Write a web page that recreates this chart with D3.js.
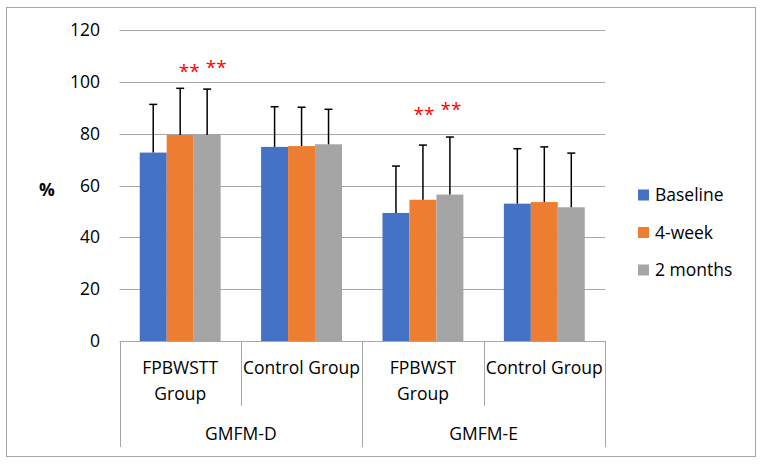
<!DOCTYPE html>
<html>
<head>
<meta charset="utf-8">
<script src="https://cdn.jsdelivr.net/npm/d3@7"></script>
<style>
  body { margin: 0; background: #fff; }
  svg { font-family: "Open Sans", sans-serif; }
</style>
</head>
<body>
<svg width="764" height="466"></svg>
<script>
// data
var categories = ["FPBWSTT Group", "Control Group", "FPBWST Group", "Control Group"];
var groups = ["GMFM-D", "GMFM-E"];
var series = ["Baseline", "4-week", "2 months"];
var colors = ["#4472C4", "#ED7D31", "#A5A5A5"];
var baseline = [72.7, 74.9, 49.4, 53.0];
var week4 = [79.5, 75.2, 54.5, 53.6];
var months2 = [79.5, 75.9, 56.5, 51.6];
var baselineSD = [18.6, 15.5, 18.1, 21.2];
var week4SD = [18.0, 15.0, 21.1, 21.3];
var months2SD = [17.7, 13.5, 22.2, 20.9];
var yTicks = [0, 20, 40, 60, 80, 100, 120];
// significance marks: category, series, level (in % units)
var starCat = [0, 0, 2, 2];
var starSeries = [1, 2, 1, 2];
var starLevel = [105.5, 107, 89, 91];

var svg = d3.select('svg');
var margin = {left: 119.5, right: 605, top: 30, bottom: 341};
var fs = 17.5;

var values = [baseline, week4, months2];
var sds = [baselineSD, week4SD, months2SD];

var x = d3.scaleBand().domain(d3.range(categories.length))
  .range([margin.left, margin.right]);
var xs = d3.scaleBand().domain(d3.range(series.length))
  .range([0, x.bandwidth()]).paddingInner(0).paddingOuter(0.75);
var y = d3.scaleLinear().domain([0, 120]).range([margin.bottom, margin.top]);

// outer frame
svg.append('rect')
  .attr('x', 6.5).attr('y', 7.5).attr('width', 749).attr('height', 449)
  .attr('fill', 'none').attr('stroke', '#a6a6a6').attr('stroke-width', 1);

// grid
svg.append('g').selectAll('line').data(yTicks).join('line')
  .attr('x1', margin.left).attr('x2', margin.right)
  .attr('y1', d => Math.round(y(d)) + 0.5).attr('y2', d => Math.round(y(d)) + 0.5)
  .attr('stroke', '#a6a6a6').attr('stroke-width', 1);

svg.append('g').selectAll('text').data(yTicks).join('text')
  .attr('x', 100).attr('y', d => y(d))
  .attr('dy', '0.35em')
  .attr('text-anchor', 'end')
  .attr('font-size', fs)
  .attr('fill', '#000')
  .text(d => d);

svg.append('text')
  .attr('x', 47).attr('y', 190).attr('dy', '0.35em')
  .attr('text-anchor', 'middle')
  .attr('font-size', fs).attr('font-weight', 'bold')
  .text('%');

// bars
series.forEach(function(s, si){
  var g = svg.append('g');
  g.selectAll('rect').data(values[si]).join('rect')
    .attr('x', (d, i) => x(i) + xs(si))
    .attr('width', xs.bandwidth())
    .attr('y', d => y(d))
    .attr('height', d => y(0) - y(d))
    .attr('fill', colors[si]);

  // error bars (upper only)
  g.selectAll('line.err').data(values[si]).join('line')
    .attr('class', 'err')
    .attr('x1', (d, i) => x(i) + xs(si) + xs.bandwidth() / 2)
    .attr('x2', (d, i) => x(i) + xs(si) + xs.bandwidth() / 2)
    .attr('y1', d => y(d))
    .attr('y2', (d, i) => y(d + sds[si][i]))
    .attr('stroke', '#000').attr('stroke-width', 1.5);
  g.selectAll('line.cap').data(values[si]).join('line')
    .attr('class', 'cap')
    .attr('x1', (d, i) => x(i) + xs(si) + xs.bandwidth() / 2 - 4)
    .attr('x2', (d, i) => x(i) + xs(si) + xs.bandwidth() / 2 + 4)
    .attr('y1', (d, i) => y(d + sds[si][i]))
    .attr('y2', (d, i) => y(d + sds[si][i]))
    .attr('stroke', '#000').attr('stroke-width', 1.5);
});

// stars
svg.append('g').selectAll('text').data(starLevel).join('text')
  .attr('x', (d, i) => x(starCat[i]) + xs(starSeries[i]) + xs.bandwidth() / 2 + (starCat[i] == 0 ? 9 : 1))
  .attr('y', d => y(d))
  .attr('dy', '0.55em')
  .attr('text-anchor', 'middle')
  .attr('font-size', 19)
  .attr('fill', 'red')
  .text('**');

// category axis with separators
var axisLine = svg.append('g').attr('stroke', '#a6a6a6').attr('stroke-width', 1);
d3.range(categories.length + 1).forEach(function(i){
  var xp = Math.round(i < categories.length ? x(i) : margin.right) + 0.5;
  var outer = (i % 2 == 0);
  axisLine.append('line')
    .attr('x1', xp).attr('x2', xp)
    .attr('y1', margin.bottom).attr('y2', outer ? 447 : 406);
});

categories.forEach(function(c, i){
  var words = c == "Control Group" ? [c] : c.split(' ');
  var t = svg.append('text')
    .attr('x', x(i) + x.bandwidth() / 2)
    .attr('y', 374)
    .attr('text-anchor', 'middle')
    .attr('font-size', fs);
  words.forEach(function(w, wi){
    t.append('tspan').attr('x', x(i) + x.bandwidth() / 2).attr('dy', wi ? 26 : 0).text(w);
  });
});

groups.forEach(function(g, gi){
  svg.append('text')
    .attr('x', x(gi * 2) + x.bandwidth())
    .attr('y', 440)
    .attr('text-anchor', 'middle')
    .attr('font-size', fs)
    .text(g);
});

// legend
var legend = svg.append('g').selectAll('g').data(series).join('g')
  .attr('transform', (d, i) => 'translate(638,' + (195 + i * 37.5) + ')');
legend.append('rect')
  .attr('x', 0).attr('y', -5.5).attr('width', 11).attr('height', 11)
  .attr('fill', (d, i) => colors[i]);
legend.append('text')
  .attr('x', 17).attr('y', 0).attr('dy', '0.35em')
  .attr('font-size', fs)
  .text(d => d);
</script>
</body>
</html>
